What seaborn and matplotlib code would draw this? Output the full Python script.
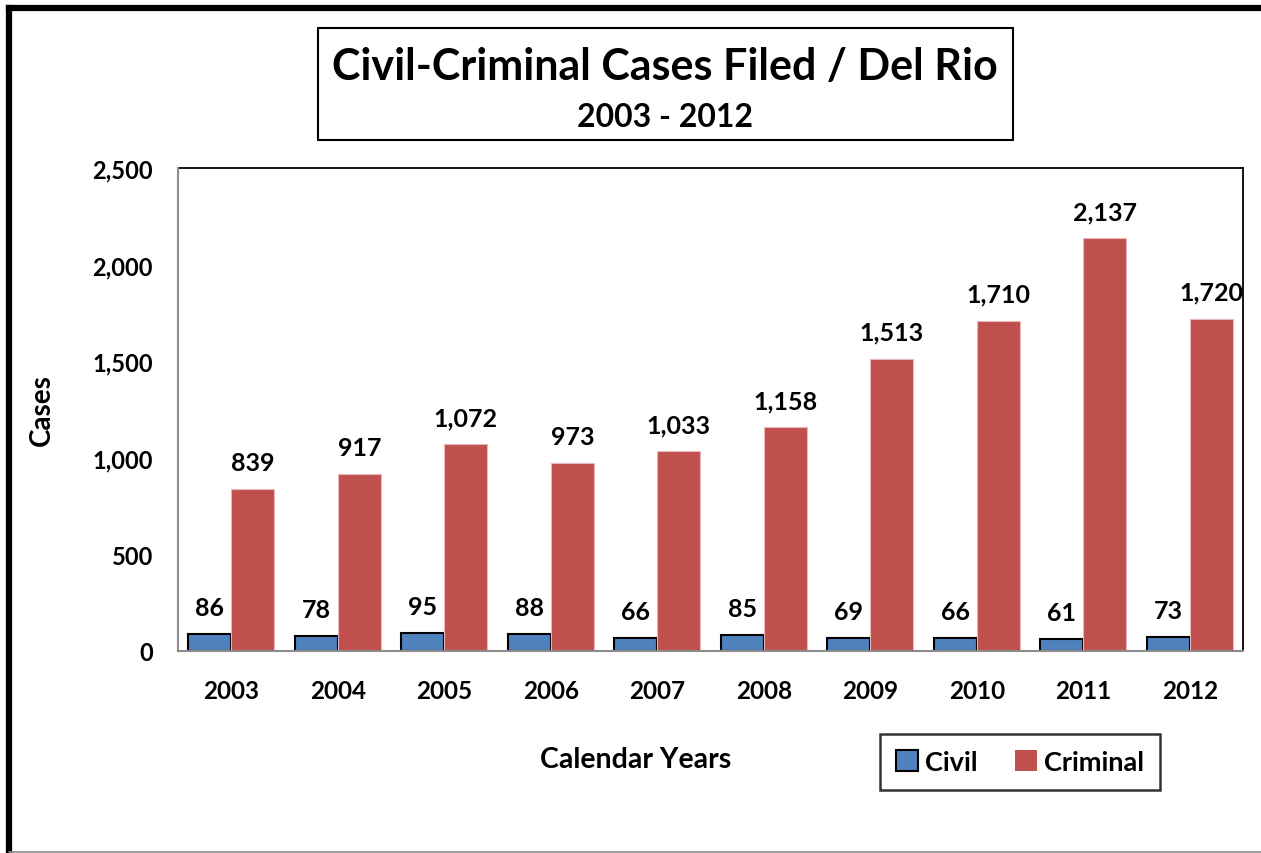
import pandas as pd
import matplotlib.pyplot as plt
import seaborn as sns
from matplotlib.patches import Rectangle, Patch
from matplotlib.lines import Line2D

# data
years = ['2003', '2004', '2005', '2006', '2007', '2008', '2009', '2010', '2011', '2012']
civil = [86, 78, 95, 88, 66, 85, 69, 66, 61, 73]
criminal = [839, 917, 1072, 973, 1033, 1158, 1513, 1710, 2137, 1720]
series = ['Civil', 'Criminal']
colors = ['#4F81BD', '#C0504D']

df = pd.DataFrame({'year': years * 2,
                   'type': ['Civil'] * len(years) + ['Criminal'] * len(years),
                   'cases': civil + criminal})

sns.set_style('white')
plt.rcParams['font.family'] = ['Lato', 'DejaVu Sans']
plt.rcParams['font.weight'] = 'bold'
plt.rcParams['text.color'] = 'black'
plt.rcParams['xtick.color'] = 'black'
plt.rcParams['ytick.color'] = 'black'

W, H = 1261, 854
fig = plt.figure(figsize=(W / 100, H / 100), dpi=100)
ax = fig.add_axes([178 / W, 1 - 652 / H, (1243 - 178) / W, (652 - 169) / H])

sns.barplot(data=df, x='year', y='cases', hue='type', order=years, hue_order=series,
            palette=colors, width=0.81, saturation=1, ax=ax, legend=False)

# bar edges: civil black outline, criminal light outline
for bar in ax.containers[0]:
    bar.set_edgecolor('black')
    bar.set_linewidth(1.5)
for bar in ax.containers[1]:
    bar.set_edgecolor('#E6B9B8')
    bar.set_linewidth(0.8)

# value labels
for cont in ax.containers:
    for bar in cont:
        h = bar.get_height()
        ax.annotate(f'{int(h):,}', (bar.get_x() + bar.get_width() / 2, h),
                    xytext=(0, 19), textcoords='offset points',
                    ha='center', va='center', fontsize=18, fontweight='bold')

ax.set_ylim(0, 2500)
ax.set_xlim(-0.5, len(years) - 0.5)
ax.set_yticks(range(0, 2501, 500))
ax.set_yticklabels([f'{v:,}' for v in range(0, 2501, 500)])
ax.set_xticks(range(len(years)))
ax.set_xticklabels(years)
ax.set_xticks([i - 0.5 for i in range(len(years) + 1)], minor=True)
ax.tick_params(axis='x', which='major', length=0, pad=20, labelsize=17.5)
ax.tick_params(axis='x', which='minor', length=7, width=1.5, color='#8c8c8c', direction='out')
ax.tick_params(axis='y', length=6, width=1.5, color='#8c8c8c', direction='out', pad=12,
               labelsize=17, labelcolor='black')
for lab in ax.get_xticklabels() + ax.get_yticklabels():
    lab.set_fontweight('bold')
    lab.set_color('black')
ax.set_xlabel('')
ax.set_ylabel('')

for side in ['left', 'bottom']:
    ax.spines[side].set_color('#8c8c8c')
    ax.spines[side].set_linewidth(1.5)
for side in ['top', 'right']:
    ax.spines[side].set_color('black')
    ax.spines[side].set_linewidth(1.3)
ax.spines['left'].set_zorder(5)

# axis titles
fig.text(42 / W, 1 - 410 / H, 'Cases', rotation=90, ha='center', va='center',
         fontsize=20, fontweight='bold')
fig.text(636 / W, 1 - 760 / H, 'Calendar Years', ha='center', va='center',
         fontsize=20.5, fontweight='bold')

# title box
fig.patches.append(Rectangle((318 / W, 1 - 141 / H), (1013 - 318) / W, (141 - 29) / H,
                             transform=fig.transFigure, fill=False, edgecolor='black',
                             linewidth=1.5))
fig.text(665 / W, 1 - 67 / H, 'Civil-Criminal Cases Filed / Del Rio', ha='center',
         va='center', fontsize=31, fontweight='bold')
fig.text(665 / W, 1 - 118 / H, '2003 - 2012', ha='center', va='center',
         fontsize=23, fontweight='bold')

# legend
handles = [Patch(facecolor=colors[0], edgecolor='black', linewidth=1.5, label='Civil'),
           Patch(facecolor=colors[1], edgecolor='none', label='Criminal')]
leg = fig.legend(handles=handles, loc='center', bbox_to_anchor=(1020 / W, 1 - 763 / H),
                 ncol=2, frameon=True, fancybox=False, fontsize=19.5,
                 handlelength=0.8, handleheight=0.8, handletextpad=0.25, columnspacing=1.4,
                 borderpad=0.6)
leg.get_frame().set_edgecolor('black')
leg.get_frame().set_linewidth(1.8)
for t in leg.get_texts():
    t.set_fontweight('bold')
    t.set_color('black')

# outer frame
fig.add_artist(Line2D([9 / W, 9 / W], [0, 1 - 9 / H], transform=fig.transFigure,
                      color='black', linewidth=4.5, solid_capstyle='projecting'))
fig.add_artist(Line2D([9 / W, 1], [1 - 9 / H, 1 - 9 / H], transform=fig.transFigure,
                      color='black', linewidth=4.5, solid_capstyle='projecting'))
fig.add_artist(Line2D([9 / W, 1], [1 / H, 1 / H], transform=fig.transFigure,
                      color='#8c8c8c', linewidth=1.2))

fig.savefig('out.png', dpi=100)
